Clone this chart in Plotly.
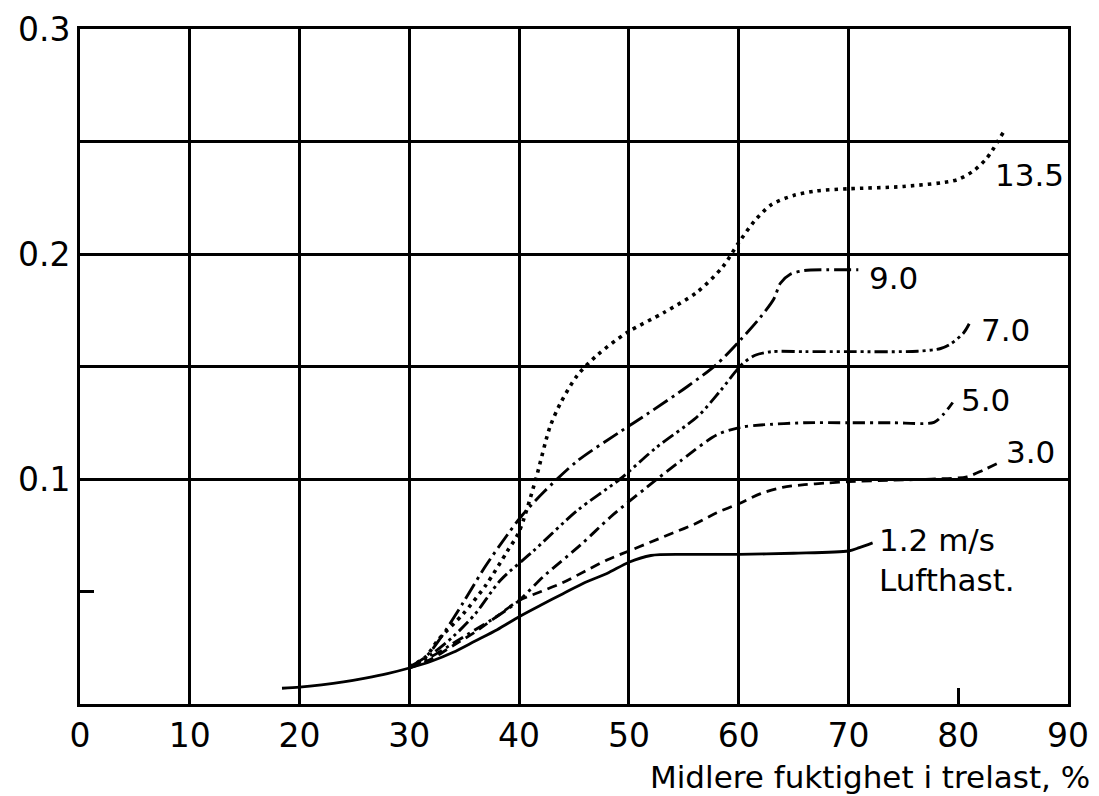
import plotly.graph_objects as go

# ---------------- data ----------------
x_tick_vals = [0, 10, 20, 30, 40, 50, 60, 70, 80, 90]
x_tick_text = ["0", "10", "20", "30", "40", "50", "60", "70", "80", "90"]
y_tick_vals = [0.05, 0.1, 0.2, 0.3]
y_tick_text = ["", "0.1", "0.2", "0.3"]
x_grid = [10, 20, 30, 40, 50, 60, 70]
y_grid = [0.1, 0.15, 0.2, 0.25]

x_label = "Midlere fuktighet i trelast, %"

# 1.2 m/s (solid)
x_12 = [18.4, 20, 22, 24, 26, 28, 30, 32, 34, 36, 38, 40, 42, 44, 46, 48, 50, 52, 55, 60, 65, 70, 71, 72.2]
y_12 = [0.007, 0.0075, 0.0085, 0.0098, 0.0115, 0.0135, 0.016, 0.019, 0.023, 0.028, 0.033, 0.0388,
        0.044, 0.049, 0.054, 0.058, 0.063, 0.066, 0.0665, 0.0665, 0.067, 0.068, 0.0695, 0.0716]

# 3.0 m/s (dashed)
x_30 = [30, 32, 34, 36, 38, 40, 42, 44, 46, 48, 50, 52, 54, 56, 58, 60, 62, 64, 66, 68, 70, 74, 78, 80.8, 82.3, 83.6]
y_30 = [0.016, 0.02, 0.026, 0.032, 0.039, 0.046, 0.050, 0.054, 0.059, 0.064, 0.068, 0.072, 0.076,
        0.080, 0.085, 0.089, 0.0935, 0.0963, 0.0975, 0.0982, 0.0988, 0.0995, 0.100, 0.101, 0.104, 0.107]

# 5.0 m/s (dash-dot)
x_50 = [30, 32, 34, 36, 38, 40, 42.2, 45.6, 48.3, 51.7, 54.7, 58, 60.2, 62, 66, 70, 74, 77.8, 78.7, 79.5]
y_50 = [0.016, 0.021, 0.027, 0.033, 0.039, 0.046, 0.0566, 0.0707, 0.083, 0.0966, 0.108, 0.1196,
        0.123, 0.124, 0.125, 0.125, 0.125, 0.1252, 0.129, 0.134]

# 7.0 m/s (dash-dot-dot)
x_70 = [30, 32, 34, 36, 38.3, 41.3, 45.3, 49.2, 52.5, 56.3, 58.3, 60.3, 61.5, 63, 66, 70, 76.3, 78.4, 79.3, 80.5, 81]
y_70 = [0.016, 0.022, 0.030, 0.040, 0.055, 0.068, 0.086, 0.100, 0.114, 0.128, 0.139, 0.151, 0.155,
        0.1566, 0.1566, 0.1566, 0.1568, 0.158, 0.160, 0.165, 0.169]

# 9.0 m/s (long dash-dot)
x_90 = [30, 31.5, 32.8, 34.9, 36.9, 38.9, 40.3, 42.2, 45.3, 49.2, 51.7, 55.3, 58, 60.2, 62, 63.2,
        63.8, 64.7, 65.9, 68, 70.9]
y_90 = [0.0165, 0.021, 0.029, 0.045, 0.061, 0.075, 0.084, 0.094, 0.108, 0.121, 0.129, 0.141, 0.151,
        0.162, 0.172, 0.180, 0.187, 0.191, 0.1926, 0.193, 0.193]

# 13.5 m/s (dotted)
x_135 = [30, 31.5, 32.6, 34.9, 37, 38.9, 40, 41.5, 42.8, 43.8, 45.3, 47.1, 49.8, 53.2, 56.2, 58.5,
         60, 61.5, 63, 65, 67, 70, 75, 79.9, 81.4, 82.5, 83.1, 83.6, 84.1]
y_135 = [0.0165, 0.021, 0.0284, 0.040, 0.053, 0.0677, 0.0766, 0.0996, 0.123, 0.134, 0.146, 0.155,
         0.165, 0.174, 0.183, 0.194, 0.205, 0.215, 0.222, 0.226, 0.228, 0.229, 0.230, 0.233, 0.237,
         0.242, 0.246, 0.250, 0.254]

series_names = ["1.2 m/s", "3.0", "5.0", "7.0", "9.0", "13.5"]
series_x = [x_12, x_30, x_50, x_70, x_90, x_135]
series_y = [y_12, y_30, y_50, y_70, y_90, y_135]
label_text = ["1.2 m/s<br>Lufthast.", "3.0", "5.0", "7.0", "9.0", "13.5"]
label_x = [72.6, 84.2, 80.1, 81.9, 71.7, 83.2]
label_y = [0.064, 0.112, 0.1351, 0.1662, 0.1893, 0.2353]

# ---------------- styles ----------------
dashes = ["solid", "10px,6px", "12px,5px,3px,5px", "13px,4px,3px,4px,3px,4px",
          "17px,5px,3px,5px", "3.5px,5px"]
widths = [2.8, 2.8, 2.9, 2.9, 2.9, 3.6]

FONT = "DejaVu Sans"

fig = go.Figure()
for name, xs, ys, d, w in zip(series_names, series_x, series_y, dashes, widths):
    fig.add_trace(go.Scatter(
        x=xs, y=ys, mode="lines", name=name,
        line=dict(color="black", width=w, dash=d, shape="spline", smoothing=0.8),
        showlegend=False, hoverinfo="skip"))

for t, lx, ly in zip(label_text, label_x, label_y):
    fig.add_annotation(x=lx, y=ly, xref="x", yref="y", text=t, showarrow=False,
                       xanchor="left", yanchor="middle", align="left",
                       font=dict(family=FONT, size=31, color="black"))

fig.add_annotation(x=1.024, y=-0.108, xref="paper", yref="paper", text=x_label,
                   showarrow=False, xanchor="right", yanchor="middle",
                   font=dict(family=FONT, size=31, color="black"))

# page body has an 8px margin, so the figure is sized to fit the visible window
fig.update_layout(
    width=1091, height=788,
    margin=dict(l=72, r=31, t=21, b=92, autoexpand=False),
    paper_bgcolor="white", plot_bgcolor="white",
    font=dict(family=FONT, size=33, color="black"),
    xaxis=dict(
        range=[0, 90], tickvals=x_tick_vals, ticktext=x_tick_text,
        showgrid=False, zeroline=False, automargin=False,
        showline=True, linecolor="black", linewidth=3, mirror=True,
        ticks="inside", ticklen=16, tickwidth=3, tickcolor="black",
        tickfont=dict(family=FONT, size=33, color="black"),
        minor=dict(tickvals=x_grid, showgrid=True, gridcolor="black", gridwidth=2.5, ticks=""),
    ),
    yaxis=dict(
        range=[0, 0.3], tickvals=y_tick_vals, ticktext=y_tick_text,
        showgrid=False, zeroline=False, automargin=False,
        showline=True, linecolor="black", linewidth=3, mirror=True,
        ticks="inside", ticklen=14, tickwidth=2.5, tickcolor="black",
        tickfont=dict(family=FONT, size=33, color="black"),
        minor=dict(tickvals=y_grid, showgrid=True, gridcolor="black", gridwidth=2.5, ticks=""),
    ),
)

fig.write_html("out.html")
